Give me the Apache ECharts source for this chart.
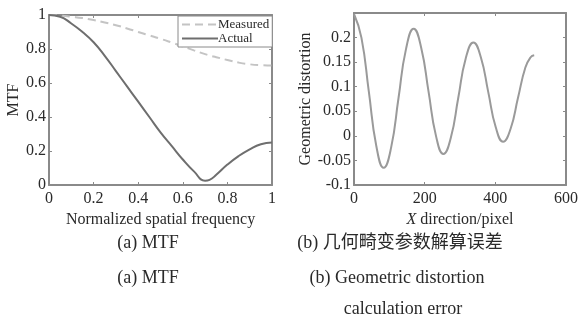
<!DOCTYPE html>
<html>
<head>
<meta charset="utf-8">
<script src="https://cdn.jsdelivr.net/npm/echarts@6/dist/echarts.min.js"></script>
<style>
    html, body { margin: 0; padding: 0; background: #fff; }
    #chart { width: 583px; height: 320px; }
</style>
</head>
<body>
<div id="chart"></div>
<script>
    // (a) MTF
    const freq = [0, 0.05, 0.1, 0.15, 0.2, 0.25, 0.3, 0.35, 0.4, 0.45, 0.5, 0.55, 0.6, 0.65, 0.7, 0.72, 0.75, 0.8, 0.85, 0.9, 0.95, 1]
    const measured = [1, 0.997, 0.99, 0.982, 0.97, 0.956, 0.94, 0.921, 0.9, 0.88, 0.86, 0.838, 0.815, 0.792, 0.77, 0.762, 0.752, 0.735, 0.72, 0.71, 0.705, 0.703]
    const actual = [1, 0.99, 0.95, 0.9, 0.84, 0.76, 0.67, 0.58, 0.49, 0.4, 0.31, 0.23, 0.15, 0.08, 0.025, 0.03, 0.06, 0.12, 0.17, 0.21, 0.24, 0.25]

    // (b) geometric distortion calculation error
    const pixelX = [0, 21, 42, 63, 84, 105, 126, 147, 169, 190, 211, 232, 253, 274, 295, 316, 338, 359, 380, 401, 422, 443, 464, 485, 500, 510]
    const distortion = [0.248, 0.2, 0.09, -0.02, -0.065, -0.024, 0.077, 0.176, 0.218, 0.18, 0.09, 0.0, -0.037, -0.004, 0.077, 0.157, 0.19, 0.16, 0.089, 0.018, -0.012, 0.014, 0.077, 0.139, 0.16, 0.164]

    const font = 'Liberation Serif'
    const txt = '#2a2a2a'
    const frame = '#8a8a8a'

    const pairs = (xs, ys) => xs.map((x, i) => [x, ys[i]])

    const boxAxis = (gridIndex, position, min, max, interval, extra) => Object.assign({
        type: 'value',
        gridIndex: gridIndex,
        position: position,
        min: min,
        max: max,
        interval: interval,
        axisLine: { show: true, onZero: false, lineStyle: { color: frame, width: 2 } },
        axisTick: { show: true, inside: true, length: 3, lineStyle: { color: frame } },
        axisLabel: { show: false },
        splitLine: { show: false }
    }, extra || {})

    const labelStyle = (margin, fmt) => ({
        show: true,
        color: txt,
        fontFamily: font,
        fontSize: 16,
        margin: margin,
        formatter: fmt
    })

    const caption = (text, x, y, fam) => ({
        text: text, left: x, top: y, textAlign: 'center',
        textStyle: { fontFamily: fam || font, fontSize: 18, fontWeight: 'normal', color: txt }
    })

    const option = {
        animation: false,
        textStyle: { fontFamily: font },
        title: [
            caption('(a) MTF', 143, 229),
            caption('(a) MTF', 143, 264),
            caption('(b) 几何畸变参数解算误差', 395, 229, font + ', Noto Sans CJK SC'),
            caption('(b) Geometric distortion', 392, 264),
            caption('calculation error', 398, 295)
        ],
        legend: {
            data: ['Measured', 'Actual'],
            orient: 'vertical',
            left: 178,
            top: 16,
            padding: [2, 3, 2, 3],
            itemGap: 1,
            itemWidth: 36,
            itemHeight: 10,
            backgroundColor: '#fff',
            borderColor: frame,
            borderWidth: 1,
            itemStyle: { opacity: 0 },
            textStyle: { fontFamily: font, fontSize: 13, color: txt, padding: [0, 0, 0, -5] }
        },
        grid: [
            { left: 49, top: 15, width: 223, height: 170 },
            { left: 354, top: 13, width: 212, height: 172 }
        ],
        xAxis: [
            boxAxis(0, 'bottom', 0, 1, 0.2, {
                axisLabel: labelStyle(6),
                name: 'Normalized spatial frequency',
                nameLocation: 'middle',
                nameGap: 23,
                nameTextStyle: { fontFamily: font, fontSize: 16, color: txt }
            }),
            boxAxis(0, 'top', 0, 1, 0.2),
            boxAxis(1, 'bottom', 0, 600, 200, {
                axisLabel: labelStyle(6),
                name: '{i|X} direction/pixel',
                nameLocation: 'middle',
                nameGap: 23,
                nameTextStyle: {
                    fontFamily: font, fontSize: 16, color: txt,
                    rich: { i: { fontFamily: font, fontSize: 16, fontStyle: 'italic', color: txt } }
                }
            }),
            boxAxis(1, 'top', 0, 600, 200)
        ],
        yAxis: [
            boxAxis(0, 'left', 0, 1, 0.2, {
                axisLabel: labelStyle(3),
                name: 'MTF',
                nameLocation: 'middle',
                nameGap: 21,
                nameTextStyle: { fontFamily: font, fontSize: 16, color: txt }
            }),
            boxAxis(0, 'right', 0, 1, 0.2),
            boxAxis(1, 'left', -0.1, 0.25, 0.05, {
                axisLabel: labelStyle(3, v => (Math.abs(v - 0.25) < 1e-9 ? '' : +v.toFixed(2))),
                name: 'Geometric distortion',
                nameLocation: 'middle',
                nameGap: 38,
                nameTextStyle: { fontFamily: font, fontSize: 16, color: txt }
            }),
            boxAxis(1, 'right', -0.1, 0.25, 0.05)
        ],
        series: [
            {
                name: 'Measured',
                type: 'line',
                xAxisIndex: 0,
                yAxisIndex: 0,
                smooth: true,
                symbol: 'none',
                lineStyle: { color: '#c4c4c4', width: 2, type: [8, 5] },
                itemStyle: { color: '#c4c4c4' },
                data: pairs(freq, measured)
            },
            {
                name: 'Actual',
                type: 'line',
                xAxisIndex: 0,
                yAxisIndex: 0,
                smooth: true,
                symbol: 'none',
                lineStyle: { color: '#6e6e6e', width: 2 },
                itemStyle: { color: '#6e6e6e' },
                data: pairs(freq, actual)
            },
            {
                name: 'Distortion',
                type: 'line',
                xAxisIndex: 2,
                yAxisIndex: 2,
                smooth: true,
                symbol: 'none',
                lineStyle: { color: '#9a9a9a', width: 2 },
                data: pairs(pixelX, distortion)
            }
        ]
    }

    const chart = echarts.init(document.getElementById('chart'))
    chart.setOption(option)
</script>
</body>
</html>
